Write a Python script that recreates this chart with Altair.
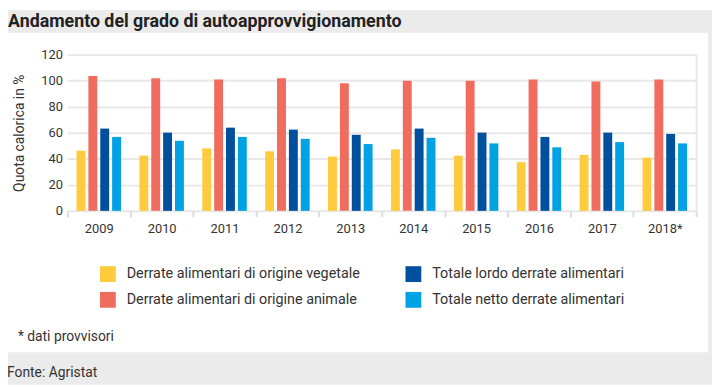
import altair as alt
import pandas as pd

years = ["2009", "2010", "2011", "2012", "2013", "2014", "2015", "2016", "2017", "2018*"]
vegetale = [46.2, 42.4, 48.0, 45.7, 41.7, 47.2, 42.4, 37.4, 43.0, 40.9]
animale = [103.6, 101.8, 100.8, 101.8, 98.0, 100.0, 100.0, 100.8, 99.3, 100.8]
lordo = [63.2, 60.1, 63.9, 62.4, 58.4, 63.2, 60.1, 56.8, 60.1, 59.1]
netto = [56.8, 53.8, 56.8, 55.3, 51.3, 56.1, 51.8, 48.8, 52.8, 51.8]

series_names = [
    "Derrate alimentari di origine vegetale",
    "Derrate alimentari di origine animale",
    "Totale lordo derrate alimentari",
    "Totale netto derrate alimentari",
]
series_colors = ["#fecb3f", "#ef6c5e", "#00509e", "#00a2e3"]

rows = []
for s, vals in zip(series_names, [vegetale, animale, lordo, netto]):
    for y, v in zip(years, vals):
        rows.append({"anno": y, "serie": s, "valore": v})
df = pd.DataFrame(rows)

FONT = "Roboto"
TXT = "#333333"
GRID = "#e8e8e8"
BAND = "#ebebeb"

x_enc = alt.X(
    "anno:N",
    sort=years,
    scale=alt.Scale(paddingInner=0, paddingOuter=0),
    axis=alt.Axis(
        title=None, labelAngle=0, domain=False, tickBand="extent",
        tickColor="#dcdcdc", tickSize=6, tickWidth=2, labelPadding=6,
        labelFont=FONT, labelFontSize=13, labelColor=TXT,
    ),
)

one = pd.DataFrame({"k": [0]})
top_band = alt.Chart(one).mark_rect(color=BAND).encode(
    x=alt.value(-60), x2=alt.value(652), y=alt.value(-45), y2=alt.value(-22)
)
bottom_band = alt.Chart(one).mark_rect(color=BAND).encode(
    x=alt.value(-60), x2=alt.value(652), y=alt.value(301), y2=alt.value(334)
)
right_band = alt.Chart(one).mark_rect(color=BAND).encode(
    x=alt.value(648), x2=alt.value(652), y=alt.value(-22), y2=alt.value(301)
)

bars = alt.Chart(df).mark_bar().encode(
    x=x_enc,
    xOffset=alt.XOffset("serie:N", sort=series_names,
                        scale=alt.Scale(paddingInner=0.25, paddingOuter=0.775)),
    y=alt.Y(
        "valore:Q",
        scale=alt.Scale(domain=[0, 120]),
        axis=alt.Axis(
            title="Quota calorica in %", values=[0, 20, 40, 60, 80, 100, 120],
            domain=False, ticks=False, labelPadding=5,
            gridColor=GRID, gridWidth=2,
            labelFont=FONT, labelFontSize=13, labelColor=TXT,
            titleFont=FONT, titleFontSize=14, titleFontWeight="normal",
            titleColor=TXT, titlePadding=14,
        ),
    ),
    color=alt.Color(
        "serie:N",
        scale=alt.Scale(domain=series_names, range=series_colors),
        legend=alt.Legend(
            title=None, orient="none", legendX=33, legendY=214,
            columns=2, columnPadding=46, rowPadding=10,
            symbolType="square", symbolSize=256, symbolStrokeWidth=0,
            symbolOffset=0, labelOffset=11,
            labelFont=FONT, labelFontSize=14.5, labelColor=TXT, labelLimit=400,
        ),
    ),
)

frame = alt.Chart(df).mark_bar(opacity=0).encode(
    x=x_enc,
    y=alt.Y(
        "valore:Q",
        scale=alt.Scale(domain=[0, 120]),
        axis=alt.Axis(orient="right", title=None, labels=False, ticks=False,
                      grid=False, domainColor=GRID, domainWidth=2),
    ),
)

title = alt.Chart(pd.DataFrame({"t": ["Andamento del grado di autoapprovvigionamento"]})).mark_text(
    align="left", baseline="alphabetic", font=FONT, fontSize=18, fontWeight="bold", color="#222222"
).encode(text="t:N", x=alt.value(-60), y=alt.value(-28))

note = alt.Chart(pd.DataFrame({"t": ["* dati provvisori"]})).mark_text(
    align="left", baseline="alphabetic", font=FONT, fontSize=14, color=TXT
).encode(text="t:N", x=alt.value(-50), y=alt.value(290))

source = alt.Chart(pd.DataFrame({"t": ["Fonte: Agristat"]})).mark_text(
    align="left", baseline="alphabetic", font=FONT, fontSize=14, color=TXT
).encode(text="t:N", x=alt.value(-61), y=alt.value(326))

chart = (
    alt.layer(top_band, bottom_band, right_band, bars, frame, title, note, source)
    .resolve_scale(y="independent")
    .properties(
        width=636,
        height=158,
        autosize=alt.AutoSizeParams(type="none"),
        padding={"left": 60, "top": 45, "right": 16, "bottom": 176},
        background="white",
    )
    .configure_view(stroke=None)
)

chart.save("out.html", embed_options={"renderer": "svg", "actions": False})
